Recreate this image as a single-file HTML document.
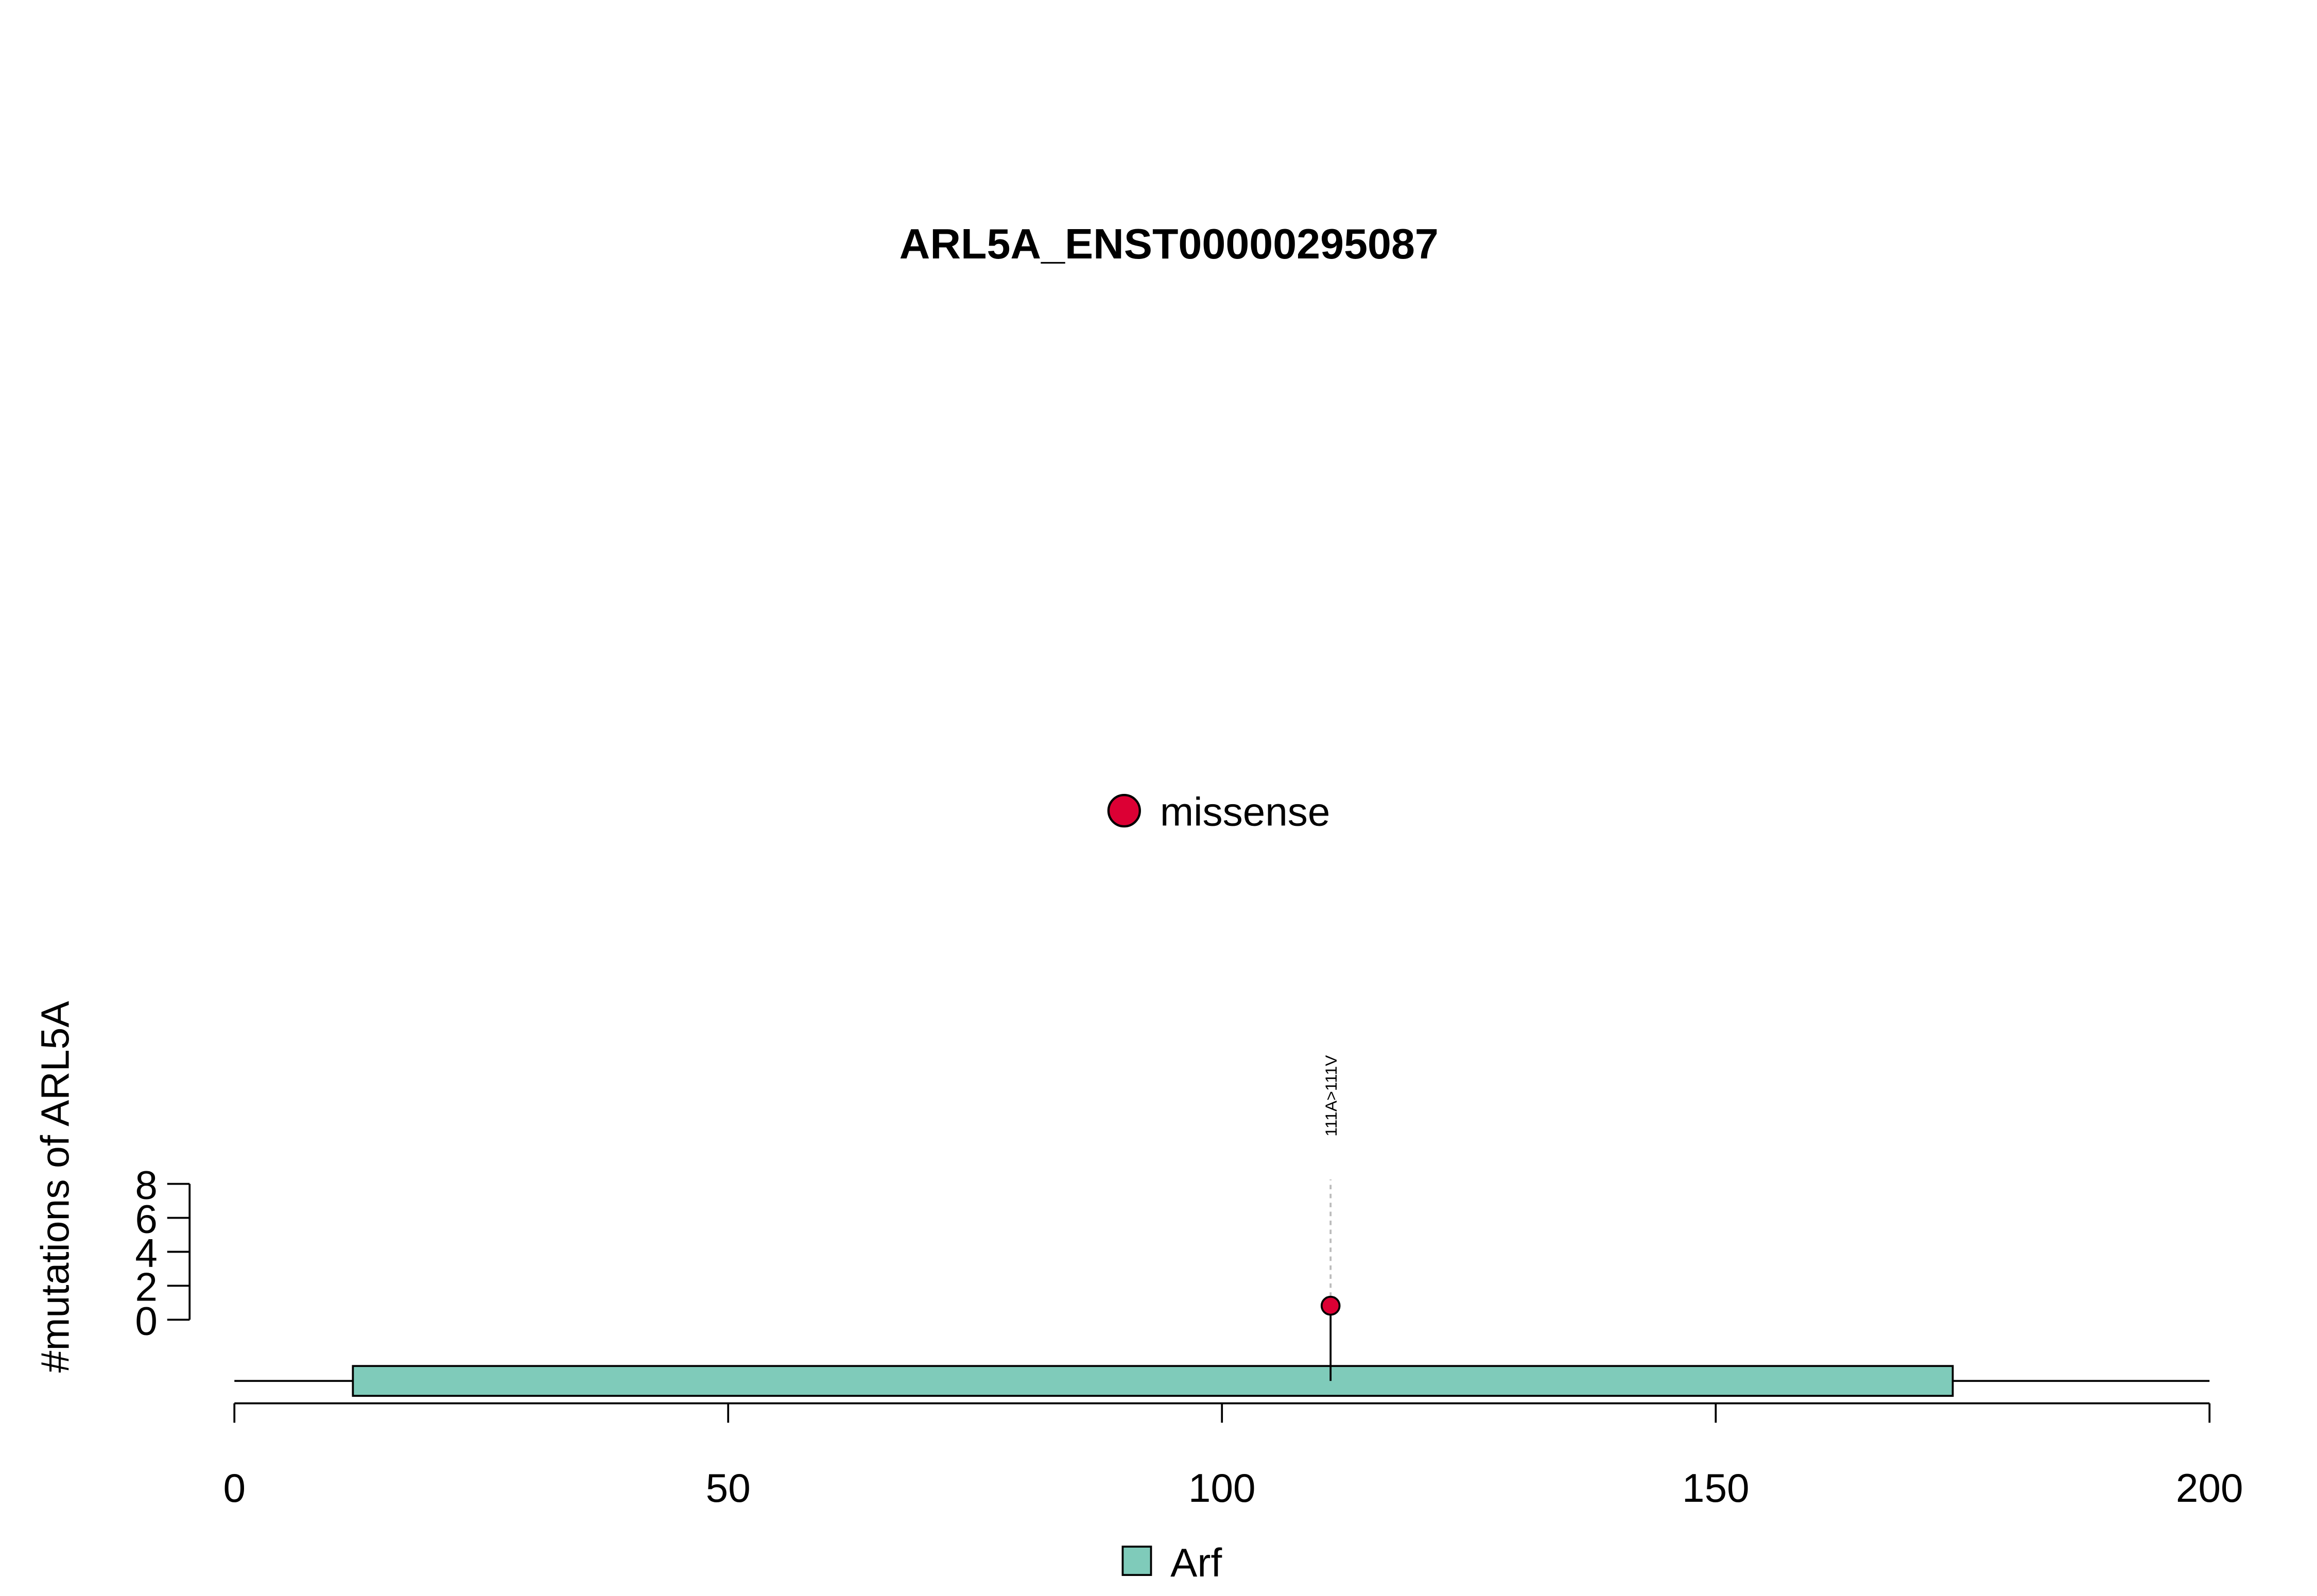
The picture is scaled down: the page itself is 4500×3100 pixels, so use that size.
<!DOCTYPE html>
<html><head><meta charset="utf-8"><style>
html,body{margin:0;padding:0;background:#fff;}
svg{display:block;font-family:"Liberation Sans",Arial,sans-serif;}
</style></head><body>
<svg id="chart" width="4500" height="3100" viewBox="0 0 1552 1069" xmlns="http://www.w3.org/2000/svg">
<rect x="0" y="0" width="1552" height="1069" fill="#fff"/>
<text x="783" y="173" text-anchor="middle" font-size="28.5" font-weight="bold">ARL5A_ENST00000295087</text>
<circle cx="753" cy="543" r="10.5" fill="#DC0034" stroke="#000" stroke-width="1.5"/>
<text x="777" y="553" font-size="27">missense</text>
<text transform="translate(46,795) rotate(-90)" text-anchor="middle" font-size="26.5">#mutations of ARL5A</text>
<g id="yaxis"></g>
<g id="xaxis"></g>
<g id="marks"></g>
<rect x="752" y="1036" width="19" height="19" fill="#7FCBBA" stroke="#000" stroke-width="1.3"/>
<text x="784" y="1056" font-size="27">Arf</text>
</svg>
<script>
const xTicks = [0, 50, 100, 150, 200];
const yTicks = [0, 2, 4, 6, 8];
const domainStart = [12];
const domainEnd = [174];
const domainNames = ["Arf"];
const mutPositions = [111];
const mutCounts = [1];
const mutLabels = ["111A>111V"];

const NS = "http://www.w3.org/2000/svg";
const xs = v => 157 + (v - 0) * (1480 - 157) / 200;
const ys = v => 884 - v * (884 - 793) / 8;
function mk(tag, attrs, parent, text) {
  const e = document.createElementNS(NS, tag);
  for (const k in attrs) e.setAttribute(k, attrs[k]);
  if (text !== undefined) e.textContent = text;
  parent.appendChild(e);
  return e;
}
const ya = document.getElementById('yaxis');
const xa = document.getElementById('xaxis');
const mg = document.getElementById('marks');

let l = mk('line', {x1:127, x2:127, y1:ys(yTicks[0]), y2:ys(yTicks[yTicks.length-1]), stroke:'#000', 'stroke-width':1.3}, ya);


yTicks.forEach(t => {
  const tk = mk('line', {x1:112, x2:127, y1:ys(t), y2:ys(t), stroke:'#000', 'stroke-width':1.3}, ya);
  
  
  const tx = mk('text', {x:98, y:ys(t)+10, 'text-anchor':'middle', 'font-size':27}, ya, String(t));
  
  
});

l = mk('line', {x1:xs(xTicks[0]), x2:xs(xTicks[xTicks.length-1]), y1:940, y2:940, stroke:'#000', 'stroke-width':1.3}, xa);


xTicks.forEach(t => {
  const tk = mk('line', {x1:xs(t), x2:xs(t), y1:940, y2:953, stroke:'#000', 'stroke-width':1.3}, xa);
  
  
  const tx = mk('text', {x:xs(t), y:1006, 'text-anchor':'middle', 'font-size':27}, xa, String(t));
  
  
});

l = mk('line', {x1:xs(0), x2:xs(200), y1:925, y2:925, stroke:'#000', 'stroke-width':1.3}, mg);


domainStart.forEach((s, i) => {
  const r = mk('rect', {x:xs(s), y:915, width:xs(domainEnd[i])-xs(s), height:20, fill:'#7FCBBA', stroke:'#000', 'stroke-width':1.3}, mg);
  
  
});
mutPositions.forEach((p, i) => {
  const x = xs(p);
  const yv = ys(mutCounts[i]) + 2;
  const dash = mk('line', {x1:x, x2:x, y1:yv-6, y2:790, stroke:'#bbb', 'stroke-width':1.3, 'stroke-dasharray':'3,3'}, mg);
  
  
  const stem = mk('line', {x1:x, x2:x, y1:925, y2:yv, stroke:'#000', 'stroke-width':1.3}, mg);
  
  
  const c = mk('circle', {cx:x, cy:yv, r:6, fill:'#DC0034', stroke:'#000', 'stroke-width':1.3}, mg);
  
  
  const t = mk('text', {transform:`translate(${x+4},734) rotate(-90)`, 'text-anchor':'middle', 'font-size':11}, mg, mutLabels[i]);
  
  
});
</script>
</body></html>
